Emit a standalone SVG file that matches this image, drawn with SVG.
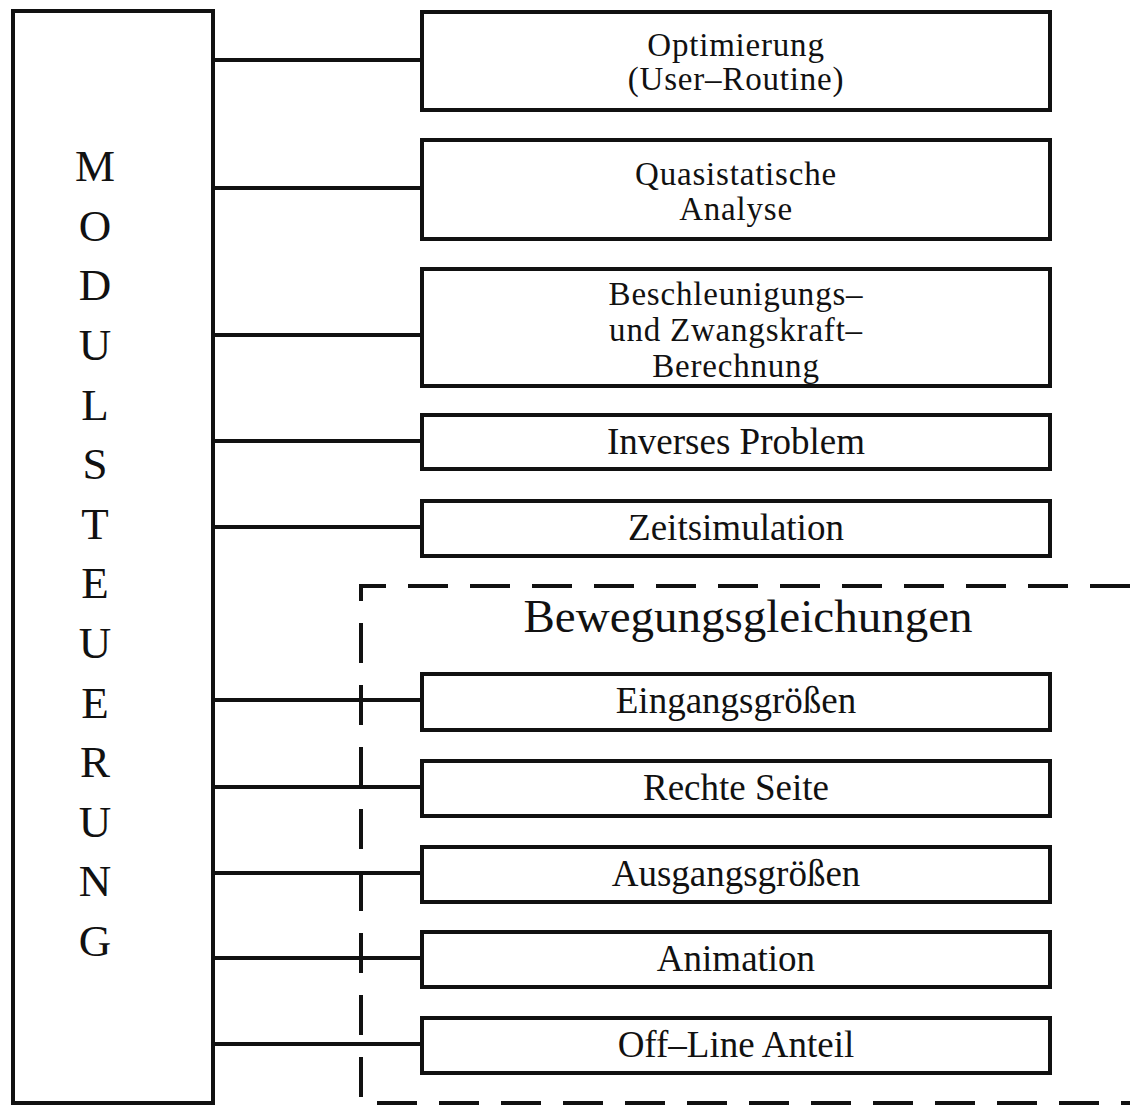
<svg xmlns="http://www.w3.org/2000/svg" width="1130" height="1107" viewBox="0 0 1130 1107">
  <style>
    .box { fill: #fff; stroke: #111; stroke-width: 4; }
    .wire { stroke: #111; stroke-width: 4; fill: none; }
    .dash { stroke: #111; stroke-width: 4; fill: none; stroke-dasharray: 40 22; }
    .lbl { font-family: "Liberation Serif", "Times New Roman", serif; font-size: 37px; fill: #111; text-anchor: middle; }
    .ml { font-family: "Liberation Serif", "Times New Roman", serif; font-size: 33px; letter-spacing: 0.8px; fill: #111; text-anchor: middle; }
    .big { font-family: "Liberation Serif", "Times New Roman", serif; font-size: 47px; fill: #111; text-anchor: middle; }
    .col { font-family: "Liberation Serif", "Times New Roman", serif; font-size: 45px; fill: #111; text-anchor: middle; }
  </style>
  <rect width="1130" height="1107" fill="#fff"/>

  <!-- dashed group frame -->
  <g id="bewegungsgleichungen">
    <path class="dash" d="M1130 586 H361 V1103 H1130"/>
    <text class="big" x="748" y="632">Bewegungsgleichungen</text>
  </g>

  <!-- connectors from the control column -->
  <g id="connectors">
    <line class="wire" x1="213" y1="60" x2="422" y2="60"/>
    <line class="wire" x1="213" y1="188" x2="422" y2="188"/>
    <line class="wire" x1="213" y1="335" x2="422" y2="335"/>
    <line class="wire" x1="213" y1="441" x2="422" y2="441"/>
    <line class="wire" x1="213" y1="527" x2="422" y2="527"/>
    <line class="wire" x1="213" y1="700" x2="422" y2="700"/>
    <line class="wire" x1="213" y1="787" x2="422" y2="787"/>
    <line class="wire" x1="213" y1="873" x2="422" y2="873"/>
    <line class="wire" x1="213" y1="958" x2="422" y2="958"/>
    <line class="wire" x1="213" y1="1044" x2="422" y2="1044"/>
  </g>

  <g id="modulsteuerung">
    <rect class="box" x="13" y="11" width="200" height="1092"/>
    <text class="col" x="95" y="181">M</text>
    <text class="col" x="95" y="241">O</text>
    <text class="col" x="95" y="300">D</text>
    <text class="col" x="95" y="360">U</text>
    <text class="col" x="95" y="420">L</text>
    <text class="col" x="95" y="479">S</text>
    <text class="col" x="95" y="539">T</text>
    <text class="col" x="95" y="598">E</text>
    <text class="col" x="95" y="658">U</text>
    <text class="col" x="95" y="718">E</text>
    <text class="col" x="95" y="777">R</text>
    <text class="col" x="95" y="837">U</text>
    <text class="col" x="95" y="896">N</text>
    <text class="col" x="95" y="956">G</text>
  </g>

  <g id="optimierung">
    <rect class="box" x="422" y="12" width="628" height="98"/>
    <text class="ml" x="736" y="56">Optimierung</text>
    <text class="ml" x="736" y="90">(User–Routine)</text>
  </g>
  <g id="quasistatische-analyse">
    <rect class="box" x="422" y="140" width="628" height="99"/>
    <text class="ml" x="736" y="185">Quasistatische</text>
    <text class="ml" x="736" y="220">Analyse</text>
  </g>
  <g id="beschleunigung">
    <rect class="box" x="422" y="269" width="628" height="117"/>
    <text class="ml" x="736" y="305">Beschleunigungs–</text>
    <text class="ml" x="736" y="341">und Zwangskraft–</text>
    <text class="ml" x="736" y="377">Berechnung</text>
  </g>
  <g id="inverses-problem">
    <rect class="box" x="422" y="415" width="628" height="54"/>
    <text class="lbl" x="736" y="454">Inverses Problem</text>
  </g>
  <g id="zeitsimulation">
    <rect class="box" x="422" y="501" width="628" height="55"/>
    <text class="lbl" x="736" y="540">Zeitsimulation</text>
  </g>
  <g id="eingangsgroessen">
    <rect class="box" x="422" y="674" width="628" height="56"/>
    <text class="lbl" x="736" y="713">Eingangsgrößen</text>
  </g>
  <g id="rechte-seite">
    <rect class="box" x="422" y="761" width="628" height="55"/>
    <text class="lbl" x="736" y="800">Rechte Seite</text>
  </g>
  <g id="ausgangsgroessen">
    <rect class="box" x="422" y="847" width="628" height="55"/>
    <text class="lbl" x="736" y="886">Ausgangsgrößen</text>
  </g>
  <g id="animation">
    <rect class="box" x="422" y="932" width="628" height="55"/>
    <text class="lbl" x="736" y="971">Animation</text>
  </g>
  <g id="off-line-anteil">
    <rect class="box" x="422" y="1018" width="628" height="55"/>
    <text class="lbl" x="736" y="1057">Off–Line Anteil</text>
  </g>
</svg>
